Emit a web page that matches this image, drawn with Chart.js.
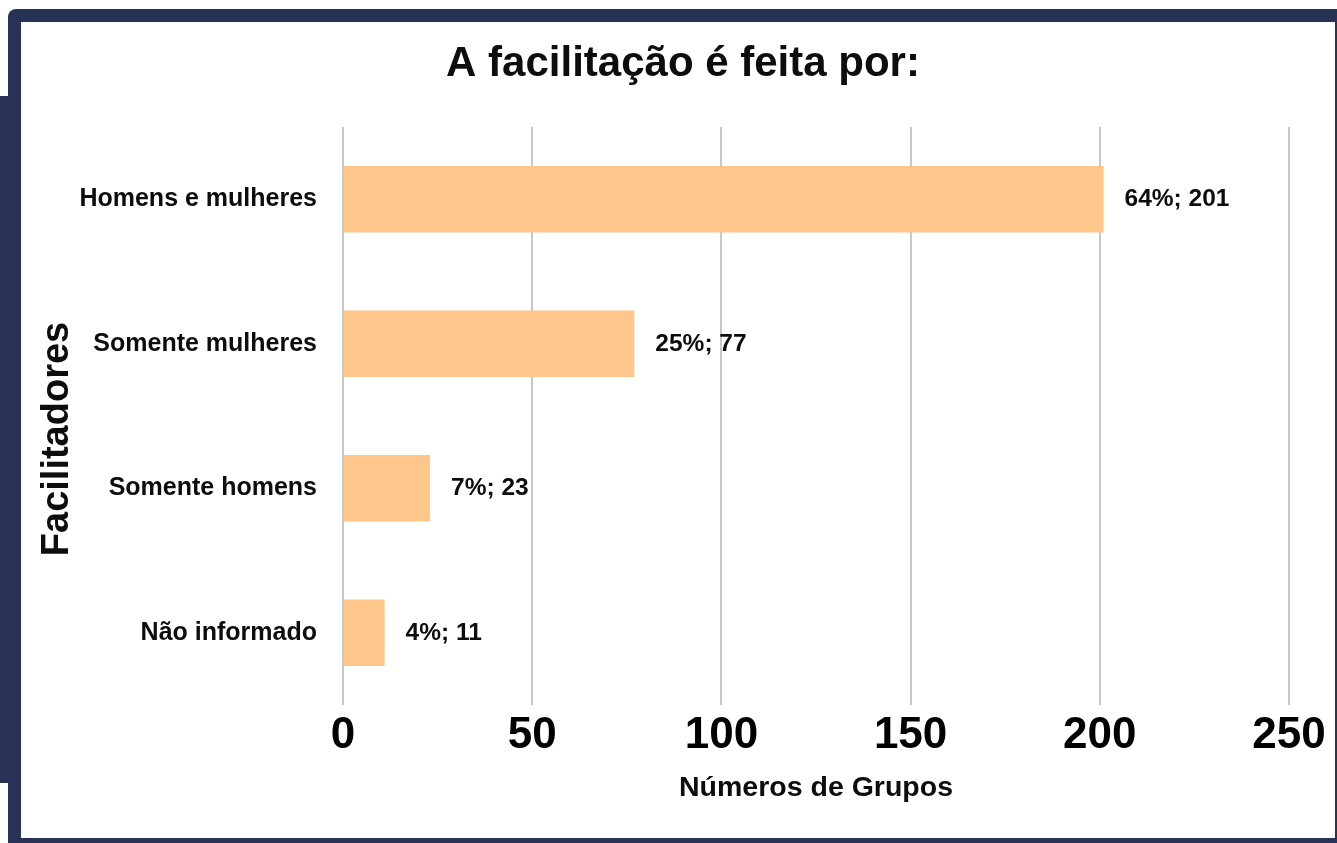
<!DOCTYPE html>
<html lang="pt">
<head>
<meta charset="utf-8">
<title>A facilitação é feita por:</title>
<script src="https://cdn.jsdelivr.net/npm/chart.js@4.4.0/dist/chart.umd.min.js"></script>
<style>
  body { margin: 0; background: #fff; width: 1337px; height: 843px; overflow: hidden; position: relative; }
  .frame { position: absolute; left: 8px; top: 9px; right: 0; bottom: 0; background: #283156; border-top-left-radius: 8px; }
  .strip { position: absolute; left: 0; top: 96px; width: 12px; height: 687px; background: #283156; }
  .inner { position: absolute; left: 21px; top: 22px; width: 1314px; height: 816px; background: #fff; }
  #chart { position: absolute; left: 0; top: 0; }
</style>
</head>
<body>
<div class="frame"></div>
<div class="strip"></div>
<div class="inner"></div>
<canvas id="chart" width="1337" height="843"></canvas>
<script>
const categories = ['Homens e mulheres', 'Somente mulheres', 'Somente homens', 'Não informado'];
const groupCounts = [201, 77, 23, 11];
const percents = [64, 25, 7, 4];
const xTicks = [0, 50, 100, 150, 200, 250];

const barColor = '#ffc68c';
const textColor = '#0d0d0d';
const fontFamily = '"Liberation Sans", Arial, sans-serif';

// labels "64%; 201" just right of each bar
const barLabels = {
  id: 'barLabels',
  afterDatasetsDraw(chart) {
    const ctx = chart.ctx;
    const meta = chart.getDatasetMeta(0);
    ctx.save();
    ctx.font = `bold 24.5px ${fontFamily}`;
    ctx.fillStyle = textColor;
    ctx.textAlign = 'left';
    ctx.textBaseline = 'middle';
    meta.data.forEach((bar, i) => {
      ctx.fillText(`${percents[i]}%; ${groupCounts[i]}`, bar.x + 21, bar.y);
    });
    ctx.restore();
  },
};

// y axis title sits lower than the plot centre in the original
const yTitle = {
  id: 'yTitle',
  afterDraw(chart) {
    const ctx = chart.ctx;
    ctx.save();
    ctx.translate(58, 439);
    ctx.rotate(-Math.PI / 2);
    ctx.font = `bold 38px ${fontFamily}`;
    ctx.fillStyle = textColor;
    ctx.textAlign = 'center';
    ctx.textBaseline = 'middle';
    ctx.fillText('Facilitadores', 0, 0);
    ctx.restore();
  },
};

new Chart(document.getElementById('chart'), {
  type: 'bar',
  data: {
    labels: categories,
    datasets: [
      {
        data: groupCounts,
        backgroundColor: barColor,
        borderWidth: 0,
        barPercentage: 0.46,
        categoryPercentage: 1,
      },
    ],
  },
  options: {
    indexAxis: 'y',
    responsive: false,
    animation: false,
    layout: { padding: { left: 77, right: 48, top: 0, bottom: 0 } },
    plugins: {
      legend: { display: false },
      tooltip: { enabled: false },
      title: {
        display: true,
        text: 'A facilitação é feita por:',
        color: textColor,
        font: { family: fontFamily, size: 42, weight: 'bold' },
        padding: { top: 39, bottom: 37.6 },
      },
    },
    scales: {
      x: {
        min: 0,
        max: 250,
        afterBuildTicks: (scale) => {
          scale.ticks = xTicks.map((v) => ({ value: v }));
        },
        afterFit: (scale) => {
          scale.height = 138;
        },
        grid: { color: '#c8c8c8', lineWidth: 2, drawTicks: false },
        border: { display: false },
        ticks: {
          color: '#000',
          padding: 4,
          font: { family: fontFamily, size: 44, weight: 'bold' },
        },
        title: {
          display: true,
          text: 'Números de Grupos',
          color: textColor,
          font: { family: fontFamily, size: 28.5, weight: 'bold' },
          padding: { top: 0, bottom: 38 },
        },
      },
      y: {
        afterFit: (scale) => {
          scale.width = 343 - 77;
        },
        grid: { display: false, drawTicks: false },
        border: { display: false },
        ticks: {
          color: textColor,
          padding: 26,
          font: { family: fontFamily, size: 25, weight: 'bold' },
        },
      },
    },
  },
  plugins: [barLabels, yTitle],
});
</script>
</body>
</html>
